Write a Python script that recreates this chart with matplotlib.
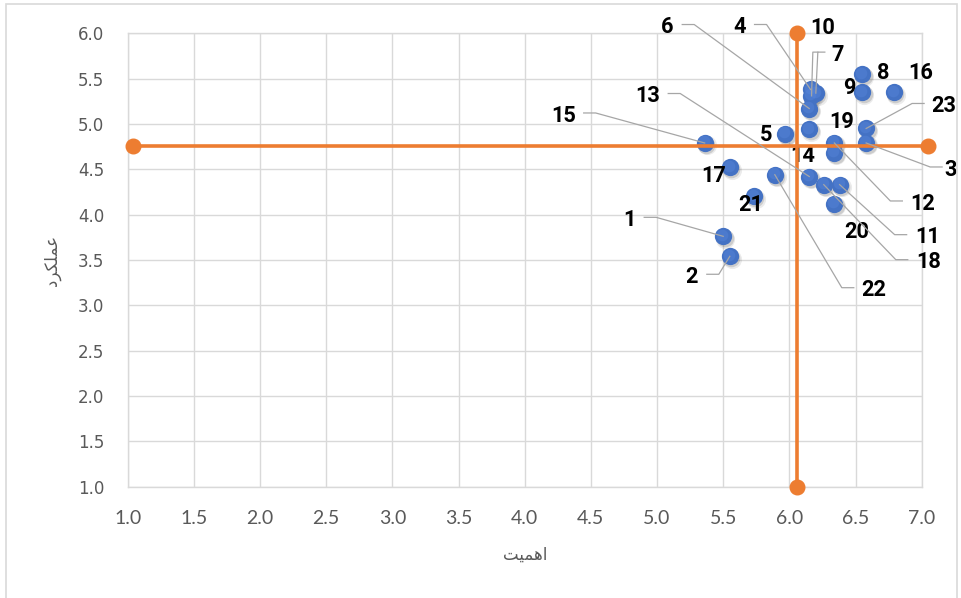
import matplotlib
matplotlib.use("Agg")
import matplotlib.pyplot as plt
import matplotlib.transforms as mtransforms
from matplotlib.lines import Line2D
from matplotlib.patches import Rectangle
import numpy as np

# ---- data -------------------------------------------------------------
item_ids = list(range(1, 24))
importance = [5.50, 5.55, 6.58, 6.16, 5.97, 6.15, 6.20, 6.55, 6.55, 6.16, 6.38, 6.34,
              6.15, 6.34, 5.36, 6.79, 5.55, 6.26, 6.15, 6.34, 5.73, 5.89, 6.58]
performance = [3.76, 3.54, 4.79, 5.38, 4.89, 5.17, 5.34, 5.55, 5.35, 5.31, 4.33, 4.79,
               4.42, 4.68, 4.79, 5.35, 4.52, 4.33, 4.94, 4.12, 4.20, 4.44, 4.95]

mean_importance = 6.06
mean_performance = 4.76
h_line_x = [1.04, 7.05]
v_line_y = [1.0, 6.0]

x_ticks = [1.0, 1.5, 2.0, 2.5, 3.0, 3.5, 4.0, 4.5, 5.0, 5.5, 6.0, 6.5, 7.0]
y_ticks = [1.0, 1.5, 2.0, 2.5, 3.0, 3.5, 4.0, 4.5, 5.0, 5.5, 6.0]

# Persian axis titles, written in presentation forms (visual order)
x_title = "\uFE96\uFEF4\uFEE4\uFEEB\uFE8D"          # اهمیت
y_title = "\uFEA9\uFEAE\uFB91\uFEE0\uFEE4\uFECB"     # عملکرد

# ---- label placement (pixels, +dy is downward) ------------------------
label_offset = {
    1: (-94, -18), 2: (-38, 19), 3: (85, 25), 4: (-71, -64), 5: (-19, -1),
    6: (-142, -83), 7: (22, -40), 8: (21, -3), 9: (-13, -6), 10: (12, -70),
    11: (88, 51), 12: (88, 59), 13: (-162, -82), 14: (-32, 1), 15: (-141, -29),
    16: (27, -21), 17: (-16, 7), 18: (105, 76), 19: (32, -9), 20: (22, 26),
    21: (-3, 7), 22: (99, 114), 23: (78, -24),
}
# leader: start x relative to label centre, stub direction (+1 right, -1 left)
leader_spec = {
    1: (15, 1), 2: (15, 1), 4: (15, 1), 6: (15, 1), 13: (21, 1), 15: (20, 1),
    3: (-9, -1), 12: (-20, -1), 11: (-21, -1), 18: (-21, -1), 22: (-20, -1),
    23: (-20, -1),
}
STUB = 12

W, H, DPI = 961, 598, 100
fig = plt.figure(figsize=(W / DPI, H / DPI), dpi=DPI)
fig.patch.set_facecolor("white")

ax_left, ax_right = 127.7, 921.7
ax_top, ax_bottom = 33.3, 486.5
ax = fig.add_axes([ax_left / W, 1 - ax_bottom / H,
                   (ax_right - ax_left) / W, (ax_bottom - ax_top) / H])
ax.set_xlim(1.0, 7.0)
ax.set_ylim(1.0, 6.0)
ax.set_xticks(x_ticks)
ax.set_yticks(y_ticks)
ax.set_xticklabels([f"{v:.1f}" for v in x_ticks], fontfamily="Lato", fontsize=14,
                   color="#595959")
ax.set_yticklabels([f"{v:.1f}" for v in y_ticks], fontfamily="DejaVu Sans", fontsize=12,
                   color="#595959")
ax.tick_params(axis="both", length=0)
ax.tick_params(axis="x", pad=17)
ax.tick_params(axis="y", pad=17)
ax.grid(True, color="#D9D9D9", linewidth=1.0)
ax.set_axisbelow(True)
for s in ax.spines.values():
    s.set_color("#D9D9D9")
    s.set_linewidth(1.0)

# soft shadow under the markers
for (ox, oy, a, sz) in [(2.0, -2.5, 0.10, 190), (1.5, -2.0, 0.18, 160)]:
    tr = mtransforms.offset_copy(ax.transData, fig=fig, x=ox, y=oy, units="dots")
    ax.scatter(importance, performance, s=sz, color="#404040", alpha=a,
               linewidths=0, transform=tr, zorder=2)
ax.scatter(importance, performance, s=155, color="#4472C4", linewidths=0, zorder=3)
# small highlight for a rounded look
tr_hi = mtransforms.offset_copy(ax.transData, fig=fig, x=-1.0, y=1.5, units="dots")
ax.scatter(importance, performance, s=70, color="#5B8BE0", alpha=0.35,
           linewidths=0, transform=tr_hi, zorder=3.1)

fig.canvas.draw()
to_disp = ax.transData.transform

# data labels and leader lines
for i, x, y in zip(item_ids, importance, performance):
    dx, dy = label_offset[i]
    ax.annotate(str(i), xy=(x, y), xytext=(dx, -(dy + 7.8)), textcoords="offset pixels",
                ha="center", va="baseline", fontfamily="Roboto", fontweight="bold",
                fontsize=15.7, color="black", zorder=5)
    px, py = to_disp((x, y))
    if i in leader_spec:
        sx, d = leader_spec[i]
        lx = px + dx + sx
        ly = py - dy + 1
        xs = [lx, lx + d * STUB, px]
        ys = [ly, ly, py]
        fig.add_artist(Line2D(xs, ys, transform=mtransforms.IdentityTransform(),
                              color="#A6A6A6", linewidth=0.9, zorder=4))

# two leaders hanging from label "7" (to points 7 and 10)
p7 = to_disp((importance[6], performance[6]))
p10 = to_disp((importance[9], performance[9]))
dx7, dy7 = label_offset[7]
lx7 = p7[0] + dx7 - 13
ly7 = p7[1] - dy7 + 1
fig.add_artist(Line2D([lx7, lx7 - 7, p7[0]], [ly7, ly7, p7[1]],
                      transform=mtransforms.IdentityTransform(),
                      color="#A6A6A6", linewidth=0.9, zorder=4))
fig.add_artist(Line2D([lx7 - 7, lx7 - 12, p10[0] + 1], [ly7, ly7, p10[1]],
                      transform=mtransforms.IdentityTransform(),
                      color="#A6A6A6", linewidth=0.9, zorder=4))

# mean lines
orange = "#ED7D31"
ax.plot(h_line_x, [mean_performance, mean_performance], color=orange, linewidth=2.6,
        marker="o", markersize=10.5, clip_on=False, zorder=6)
ax.plot([mean_importance, mean_importance], v_line_y, color=orange, linewidth=2.6,
        marker="o", markersize=10.5, clip_on=False, zorder=6)

# axis titles
fig.text((ax_left + ax_right) / 2 / W, 1 - 555 / H, x_title, ha="center", va="center",
         fontsize=12, color="#595959", family=["DejaVu Sans"])
fig.text(52.5 / W, 1 - 260 / H, y_title, ha="center", va="center", rotation=90,
         fontsize=12, color="#595959", family=["DejaVu Sans"])

# outer chart frame
fig.patches.append(Rectangle((6 / W, -0.05), (957 - 6) / W, 1.05 - 4 / H,
                             transform=fig.transFigure, fill=False,
                             edgecolor="#D9D9D9", linewidth=1.2))

fig.savefig("out.png", dpi=DPI)
